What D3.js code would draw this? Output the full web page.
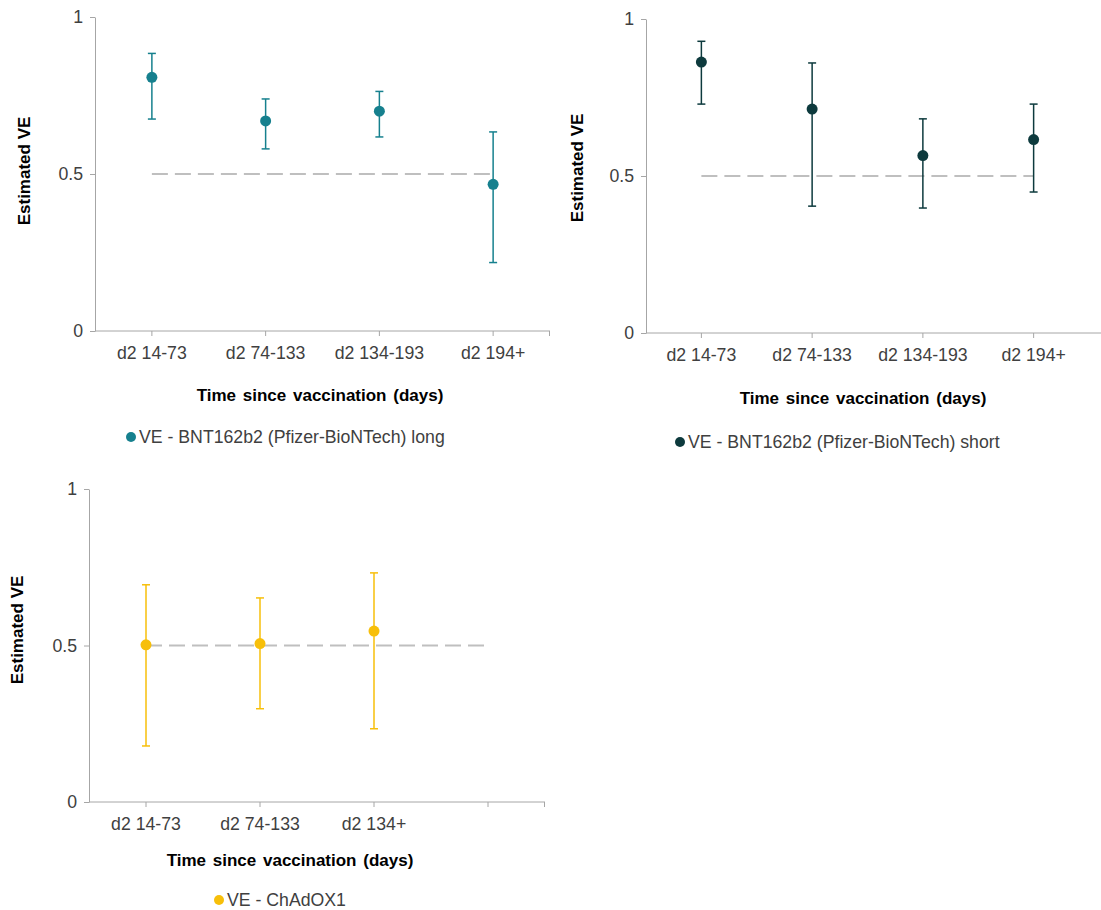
<!DOCTYPE html>
<html>
<head>
<meta charset="utf-8">
<script src="https://cdn.jsdelivr.net/npm/d3@7"></script>
<style>
  body { margin: 0; background: #fff; }
  text { font-family: "Liberation Sans", Arial, sans-serif; fill: #404040; }
</style>
</head>
<body>
<div id="chart"></div>
<script>
// categories and values
var catsPfizer = ["d2 14-73", "d2 74-133", "d2 134-193", "d2 194+"];
var catsChad = ["d2 14-73", "d2 74-133", "d2 134+", ""];

var veLong = [0.808, 0.669, 0.700, 0.467];
var loLong = [0.675, 0.580, 0.618, 0.218];
var hiLong = [0.884, 0.739, 0.763, 0.634];

var veShort = [0.863, 0.713, 0.565, 0.616];
var loShort = [0.729, 0.404, 0.398, 0.449];
var hiShort = [0.929, 0.860, 0.682, 0.729];

var veChad = [0.502, 0.506, 0.546];
var loChad = [0.179, 0.298, 0.234];
var hiChad = [0.694, 0.652, 0.732];

var yTicks = [0, 0.5, 1];
var refLine = 0.5;

var legendLong = "VE - BNT162b2 (Pfizer-BioNTech) long";
var legendShort = "VE - BNT162b2 (Pfizer-BioNTech) short";
var legendChad = "VE - ChAdOX1";

// layout of the three panels
var panels = [
  {cats: catsPfizer, ve: veLong, lo: loLong, hi: hiLong, legend: legendLong, color: "#16808e",
   left: 95, right: 550, top: 17, bottom: 331, axisEnd: 550, endTick: true,
   yTitle: [30, 171], xTitle: [320, 401], leg: [131, 437]},
  {cats: catsPfizer, ve: veShort, lo: loShort, hi: hiShort, legend: legendShort, color: "#0d3a3d",
   left: 646, right: 1089, top: 19, bottom: 333, axisEnd: 1101, endTick: false,
   yTitle: [583, 168], xTitle: [863, 404], leg: [680, 442]},
  {cats: catsChad, ve: veChad, lo: loChad, hi: hiChad, legend: legendChad, color: "#f7bf0a",
   left: 89, right: 545, top: 489, bottom: 802, axisEnd: 545, endTick: true,
   yTitle: [23, 630], xTitle: [290, 866], leg: [219, 900]}
];

var axisColor = "#a6a6a6";
var labelSize = "17.7px";

var svg = d3.select("#chart").append("svg")
    .attr("width", 1101)
    .attr("height", 910);

panels.forEach(function(p) {
  var x = d3.scaleBand().domain(p.cats).range([p.left, p.right]);
  var y = d3.scaleLinear().domain([0, 1]).range([p.bottom, p.top]);
  var g = svg.append("g");

  // y axis
  var ya = g.append("g")
      .attr("transform", "translate(" + p.left + ",0)")
      .call(d3.axisLeft(y).tickValues(yTicks).tickSize(5).tickSizeOuter(0)
        .tickPadding(7).tickFormat(d3.format("")));
  ya.select(".domain").attr("stroke", axisColor);
  ya.selectAll(".tick line").attr("stroke", axisColor);
  ya.selectAll(".tick text").style("font-size", labelSize).attr("fill", "#404040");

  // x axis
  var xa = g.append("g")
      .attr("transform", "translate(0," + p.bottom + ")")
      .call(d3.axisBottom(x).tickSize(5).tickSizeOuter(0).tickPadding(10));
  xa.select(".domain").remove();
  xa.selectAll(".tick line").attr("stroke", axisColor);
  xa.selectAll(".tick text").style("font-size", labelSize).attr("fill", "#404040");
  xa.append("line")
      .attr("x1", p.left).attr("x2", p.axisEnd)
      .attr("stroke", axisColor);
  if (p.endTick) {
    xa.append("line")
        .attr("x1", p.axisEnd - 0.5).attr("x2", p.axisEnd - 0.5)
        .attr("y2", 5)
        .attr("stroke", axisColor);
  }

  // dashed 0.5 reference line
  var cx = function(c) { return x(c) + x.bandwidth() / 2; };
  g.append("line")
      .attr("x1", cx(p.cats[0]))
      .attr("x2", cx(p.cats[3]))
      .attr("y1", y(refLine))
      .attr("y2", y(refLine))
      .attr("stroke", "#bfbfbf")
      .attr("stroke-width", 2)
      .attr("stroke-dasharray", "16,7");

  // error bars and points
  var pts = p.ve.map(function(v, i) {
    return {cat: p.cats[i], ve: v, lo: p.lo[i], hi: p.hi[i]};
  });
  var bars = g.selectAll(".bar").data(pts).enter().append("g");
  bars.append("line")
      .attr("x1", function(d) { return cx(d.cat); })
      .attr("x2", function(d) { return cx(d.cat); })
      .attr("y1", function(d) { return y(d.lo); })
      .attr("y2", function(d) { return y(d.hi); })
      .attr("stroke", p.color).attr("stroke-width", 1.5);
  ["lo", "hi"].forEach(function(k) {
    bars.append("line")
        .attr("x1", function(d) { return cx(d.cat) - 4; })
        .attr("x2", function(d) { return cx(d.cat) + 4; })
        .attr("y1", function(d) { return y(d[k]); })
        .attr("y2", function(d) { return y(d[k]); })
        .attr("stroke", p.color).attr("stroke-width", 1.5);
  });
  bars.append("circle")
      .attr("cx", function(d) { return cx(d.cat); })
      .attr("cy", function(d) { return y(d.ve); })
      .attr("r", 5.5)
      .attr("fill", p.color);

  // axis titles
  g.append("text")
      .attr("transform", "translate(" + p.yTitle[0] + "," + p.yTitle[1] + ") rotate(-90)")
      .attr("text-anchor", "middle")
      .style("font-size", "17px")
      .style("font-weight", "bold")
      .style("fill", "#000")
      .text("Estimated VE");
  g.append("text")
      .attr("x", p.xTitle[0])
      .attr("y", p.xTitle[1])
      .attr("text-anchor", "middle")
      .style("font-size", "17px")
      .style("font-weight", "bold")
      .style("word-spacing", "2px")
      .style("fill", "#000")
      .text("Time since vaccination (days)");

  // legend
  g.append("circle")
      .attr("cx", p.leg[0])
      .attr("cy", p.leg[1])
      .attr("r", 5)
      .attr("fill", p.color);
  g.append("text")
      .attr("x", p.leg[0] + 8)
      .attr("y", p.leg[1] + 6)
      .style("font-size", labelSize)
      .text(p.legend);
});
</script>
</body>
</html>
